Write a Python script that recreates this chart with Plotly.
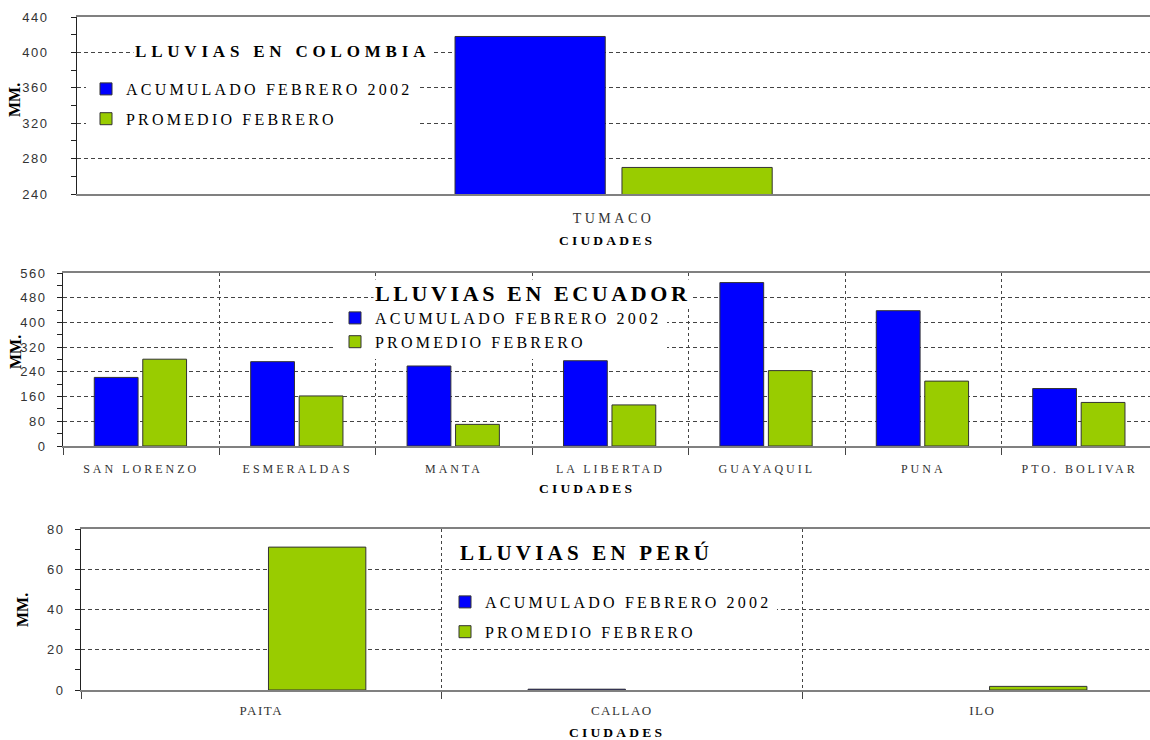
import plotly.graph_objects as go

W, H = 1150, 740

# ---------------- data ----------------
SERIES = ["ACUMULADO FEBRERO 2002", "PROMEDIO FEBRERO"]
SERIES_COLORS = ["#0000FF", "#99CC00"]

COL_CITIES = ["TUMACO"]
COL_ACUM = [418]
COL_PROM = [270]
COL_YTICKS = [240, 280, 320, 360, 400, 440]

ECU_CITIES = ["SAN LORENZO", "ESMERALDAS", "MANTA", "LA LIBERTAD", "GUAYAQUIL", "PUNA", "PTO. BOLIVAR"]
ECU_ACUM = [222, 273, 259, 276, 529, 438, 186]
ECU_PROM = [281, 162, 70, 133, 244, 210, 141]
ECU_YTICKS = [0, 80, 160, 240, 320, 400, 480, 560]

PER_CITIES = ["PAITA", "CALLAO", "ILO"]
PER_ACUM = [None, 0.4, None]
PER_PROM = [71, None, 1.8]
PER_YTICKS = [0, 20, 40, 60, 80]

TITLES = ["LLUVIAS EN COLOMBIA", "LLUVIAS EN ECUADOR", "LLUVIAS EN PERÚ"]
X_TITLE = "CIUDADES"
Y_TITLE = "MM."

SERIF = "Liberation Serif, Times New Roman, serif"
SANS = "Liberation Sans, Arial, sans-serif"


def px(x):
    return x / W


def py(y):
    return 1 - y / H


def sp(text, ls):
    return '<span style="letter-spacing:%spx">%s</span>' % (ls, text)


panels = [
    dict(cities=COL_CITIES, acum=COL_ACUM, prom=COL_PROM, yticks=COL_YTICKS,
         left=77, top=17, bottom=194, xmax=0.5, yrange=[240, 440], minor=20,
         bw=0.14, offs=[-0.1477, 0.0079], tickfs=14, tickls=3.5, tickstand=10, ticks=False,
         ystand=20, legx=86, legy=72, leggap=6,
         title=(133, 52, 17, 4.8), ytitle=(15, 100), xtitle=(607, 240)),
    dict(cities=ECU_CITIES, acum=ECU_ACUM, prom=ECU_PROM, yticks=ECU_YTICKS,
         left=63, top=273, bottom=446, xmax=6.45, yrange=[0, 560], minor=40,
         bw=0.28, offs=[-0.30, 0.01], tickfs=12, tickls=3, tickstand=11, ticks=True,
         ystand=8, legx=335, legy=301, leggap=0,
         title=(373, 293, 22, 3.6), ytitle=(15, 352), xtitle=(587, 488)),
    dict(cities=PER_CITIES, acum=PER_ACUM, prom=PER_PROM, yticks=PER_YTICKS,
         left=81, top=529, bottom=690, xmax=2.465, yrange=[0, 80], minor=10,
         bw=0.27, offs=[-0.26, 0.02], tickfs=13, tickls=1.5, tickstand=8, ticks=True,
         ystand=8, legx=445, legy=585, leggap=6,
         title=(458, 553, 21, 4.2), ytitle=(22, 610), xtitle=(617, 732)),
]

fig = go.Figure()
layout = dict(
    width=W, height=H,
    margin=dict(l=0, r=0, t=0, b=0, pad=0, autoexpand=False),
    paper_bgcolor="white", plot_bgcolor="white",
    barmode="group",
    showlegend=True,
    annotations=[],
)

for i, p in enumerate(panels, start=1):
    sfx = "" if i == 1 else str(i)
    xa, ya = "x" + sfx, "y" + sfx
    leg = "legend" + sfx
    for j, (name, vals) in enumerate(zip(SERIES, [p["acum"], p["prom"]])):
        fig.add_trace(go.Bar(
            x=p["cities"], y=vals, name=sp(name, 3.2),
            marker=dict(color=SERIES_COLORS[j], line=dict(color="#333333", width=1)),
            width=p["bw"], offset=p["offs"][j],
            xaxis=xa, yaxis=ya, legend=leg, legendgroup="g%d_%d" % (i, j),
            hoverinfo="x+y",
        ))
    multi = len(p["cities"]) > 1
    layout["xaxis" + sfx] = dict(
        domain=[px(p["left"]), 1], anchor=ya, type="category",
        range=[-0.5, p["xmax"]], automargin=False,
        showline=True, linecolor="#808080", linewidth=1.5, mirror=True,
        showgrid=multi, gridcolor="#444444", griddash="3px,3px", gridwidth=1,
        tickson="boundaries",
        ticks="outside" if p["ticks"] else "", ticklen=7, tickcolor="#444444",
        tickmode="array", tickvals=p["cities"],
        ticktext=[sp(c, p["tickls"]) for c in p["cities"]],
        tickfont=dict(family=SERIF, size=p["tickfs"], color="#333333"),
        ticklabelstandoff=p["tickstand"],
        zeroline=False, fixedrange=True,
    )
    layout["yaxis" + sfx] = dict(
        domain=[py(p["bottom"]), py(p["top"])], anchor=xa,
        range=p["yrange"], automargin=False,
        showline=True, linecolor="#222222", linewidth=1,
        ticks="outside", ticklen=5, tickcolor="#222222",
        tickmode="array", tickvals=p["yticks"],
        ticktext=[sp(str(v), 1.5) for v in p["yticks"]],
        tickfont=dict(family=SANS, size=13, color="#333333"),
        ticklabelstandoff=p["ystand"],
        showgrid=True, gridcolor="#444444", griddash="4px,3px", gridwidth=1,
        minor=dict(dtick=p["minor"], tick0=0, ticks="outside", ticklen=5,
                   tickcolor="#222222", showgrid=False),
        zeroline=False, fixedrange=True,
    )
    layout[leg] = dict(
        x=px(p["legx"]), y=py(p["legy"]), xanchor="left", yanchor="top",
        bgcolor="white", borderwidth=0, tracegroupgap=p["leggap"],
        font=dict(family=SERIF, size=16, color="black"),
        traceorder="grouped", itemclick=False, itemdoubleclick=False,
    )
    tx, tyy, tfs, tls = p["title"]
    layout["annotations"].append(dict(
        x=px(tx), y=py(tyy), xref="paper", yref="paper", xanchor="left", yanchor="middle",
        text=sp(TITLES[i - 1], tls), showarrow=False, bgcolor="white", borderpad=1,
        font=dict(family=SERIF, size=tfs, color="black", weight="bold"),
    ))
    yx, yy = p["ytitle"]
    layout["annotations"].append(dict(
        x=px(yx), y=py(yy), xref="paper", yref="paper", xanchor="center", yanchor="middle",
        text=Y_TITLE, textangle=-90, showarrow=False,
        font=dict(family=SERIF, size=16, color="black", weight="bold"),
    ))
    xx, xy = p["xtitle"]
    layout["annotations"].append(dict(
        x=px(xx), y=py(xy), xref="paper", yref="paper", xanchor="center", yanchor="middle",
        text=sp(X_TITLE, 3.2), showarrow=False,
        font=dict(family=SERIF, size=13.5, color="black", weight="bold"),
    ))

fig.update_layout(**layout)
fig.write_html(
    "out.html",
    config={"displayModeBar": False},
    post_script="document.documentElement.style.margin='0';document.body.style.margin='0';"
                "document.body.style.overflow='hidden';",
)
